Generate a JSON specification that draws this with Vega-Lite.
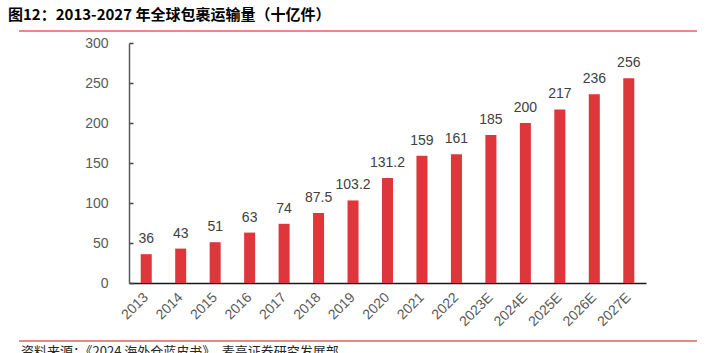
{
  "$schema": "https://vega.github.io/schema/vega-lite/v6.json",
  "width": 517,
  "height": 240,
  "autosize": {"type": "none"},
  "padding": {"left": 129, "top": 43, "right": 60, "bottom": 70},
  "background": "white",
  "config": {"view": {"stroke": null}, "font": "Liberation Sans"},
  "title": {
    "text": "图12：2013-2027 年全球包裹运输量（十亿件）",
    "anchor": "start",
    "frame": "group",
    "dx": -121,
    "offset": 7,
    "font": "Noto Sans CJK SC",
    "fontSize": 15,
    "fontWeight": "bold",
    "color": "#000000"
  },
  "data": {
    "values": [
      {"year": "2013", "value": 36},
      {"year": "2014", "value": 43},
      {"year": "2015", "value": 51},
      {"year": "2016", "value": 63},
      {"year": "2017", "value": 74},
      {"year": "2018", "value": 87.5},
      {"year": "2019", "value": 103.2},
      {"year": "2020", "value": 131.2},
      {"year": "2021", "value": 159},
      {"year": "2022", "value": 161},
      {"year": "2023E", "value": 185},
      {"year": "2024E", "value": 200},
      {"year": "2025E", "value": 217},
      {"year": "2026E", "value": 236},
      {"year": "2027E", "value": 256}
    ]
  },
  "layer": [
    {
      "encoding": {
        "x": {
          "field": "year",
          "type": "ordinal",
          "sort": null,
          "scale": {"paddingInner": 0.68, "paddingOuter": 0.34},
          "axis": {
            "title": null,
            "labelAngle": -45,
            "labelAlign": "right",
            "labelBaseline": "middle",
            "labelPadding": 12,
            "labelFontSize": 14,
            "labelColor": "#595959",
            "ticks": false,
            "domainColor": "#1a1a1a",
            "domainWidth": 1.5
          }
        },
        "y": {
          "field": "value",
          "type": "quantitative",
          "scale": {"domain": [0, 300]},
          "axis": {
            "title": null,
            "grid": false,
            "values": [0, 50, 100, 150, 200, 250, 300],
            "tickSize": -4,
            "tickColor": "#404040",
            "tickWidth": 1.5,
            "labelPadding": 25,
            "labelFontSize": 14,
            "labelColor": "#595959",
            "domainColor": "#595959",
            "domainWidth": 1.5
          }
        }
      },
      "layer": [
        {"mark": {"type": "bar", "color": "#DF363C"}},
        {
          "mark": {"type": "text", "baseline": "alphabetic", "dy": -11, "fontSize": 14, "color": "#404040"},
          "encoding": {"text": {"field": "value", "type": "quantitative"}}
        }
      ]
    },
    {
      "data": {"values": [{}]},
      "layer": [
        {
          "mark": {"type": "rule", "color": "#E06060", "strokeWidth": 1.5, "clip": false},
          "encoding": {
            "x": {"datum": 0, "type": "quantitative", "scale": {"domain": [0, 1], "range": [-110, 568]}, "axis": null},
            "x2": {"datum": 1},
            "y": {"datum": 1, "type": "quantitative", "scale": {"domain": [0, 1], "range": [298, -12], "zero": false, "nice": false}, "axis": null}
          }
        },
        {
          "mark": {"type": "rule", "color": "#E06060", "strokeWidth": 1.5, "clip": false},
          "encoding": {
            "x": {"datum": 0, "type": "quantitative", "axis": null},
            "x2": {"datum": 1},
            "y": {"datum": 0, "type": "quantitative", "axis": null}
          }
        },
        {
          "mark": {"type": "text", "align": "left", "baseline": "top", "font": "Noto Sans CJK SC", "fontSize": 13, "color": "#262626", "dx": 2, "dy": 5},
          "encoding": {
            "x": {"datum": 0, "type": "quantitative", "axis": null},
            "y": {"datum": 0, "type": "quantitative", "axis": null},
            "text": {"value": "资料来源：《2024 海外仓蓝皮书》，麦高证券研究发展部"}
          }
        }
      ]
    }
  ],
  "resolve": {
    "scale": {"x": "independent", "y": "independent"},
    "axis": {"x": "independent", "y": "independent"}
  }
}
